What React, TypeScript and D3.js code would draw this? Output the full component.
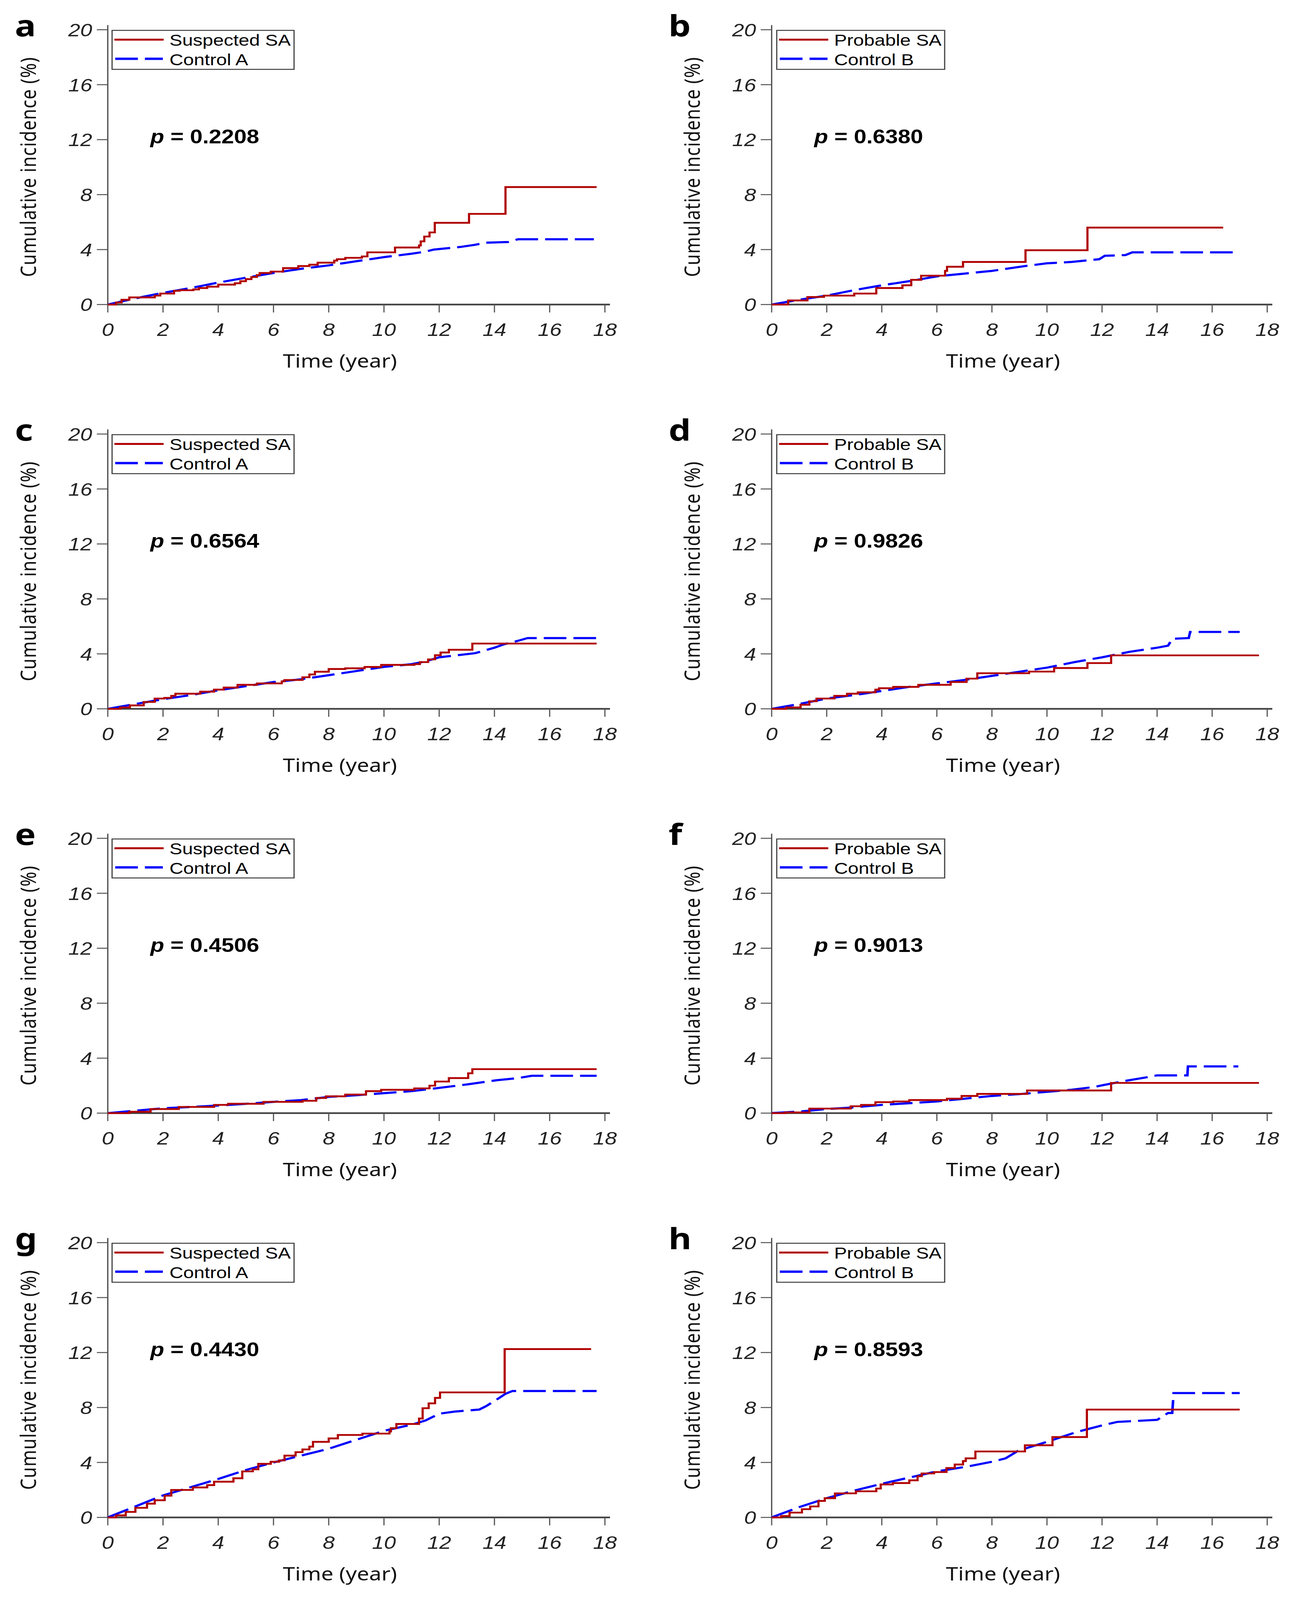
import React, { useEffect } from 'react';
import * as d3 from 'd3';

// Cumulative incidence panels: [time (year), incidence (%)]
const xTicks = [0, 2, 4, 6, 8, 10, 12, 14, 16, 18];
const yTicks = [0, 4, 8, 12, 16, 20];
const panelLetters = ['a', 'b', 'c', 'd', 'e', 'f', 'g', 'h'];
const pValues = ['0.2208', '0.6380', '0.6564', '0.9826', '0.4506', '0.9013', '0.4430', '0.8593'];
const caseNames = ['Suspected SA', 'Probable SA'];
const controlNames = ['Control A', 'Control B'];

type Pt = [number, number];

const redA: Pt[] = [[0, 0], [0.3, 0.15], [0.5, 0.35], [0.78, 0.52], [1.7, 0.65], [1.9, 0.8], [2.4, 1.0], [2.6, 1.04], [3.1, 1.1], [3.3, 1.2], [3.6, 1.3], [4.0, 1.45], [4.6, 1.55], [4.8, 1.7], [5.0, 1.85], [5.2, 2.0], [5.4, 2.15], [5.5, 2.3], [5.9, 2.4], [6.35, 2.65], [6.9, 2.8], [7.3, 2.9], [7.6, 3.05], [8.2, 3.2], [8.3, 3.3], [8.6, 3.4], [9.2, 3.5], [9.4, 3.8], [10.4, 4.15], [11.27, 4.3], [11.33, 4.6], [11.46, 4.95], [11.65, 5.25], [11.84, 5.95], [13.08, 6.6], [14.4, 8.55], [17.7, 8.55]];
const blueA: Pt[] = [[0, 0], [1, 0.45], [2, 0.85], [3, 1.2], [4, 1.6], [5, 1.95], [6, 2.3], [7, 2.6], [8, 2.85], [9, 3.15], [10, 3.45], [11, 3.7], [11.5, 3.85], [11.8, 4.0], [12.8, 4.2], [13.3, 4.35], [13.7, 4.5], [14.5, 4.55], [14.85, 4.75], [17.6, 4.75]];

const redB: Pt[] = [[0, 0], [0.6, 0.3], [1.3, 0.55], [1.9, 0.65], [3.0, 0.8], [3.8, 1.2], [4.75, 1.4], [5.07, 1.8], [5.43, 2.1], [6.3, 2.45], [6.37, 2.75], [6.95, 3.1], [9.22, 3.95], [11.47, 5.6], [16.4, 5.6]];
const blueB: Pt[] = [[0, 0], [1, 0.35], [2, 0.65], [3, 1.05], [4, 1.4], [5, 1.7], [6, 2.05], [7, 2.25], [8, 2.45], [9.2, 2.8], [10, 3.0], [10.9, 3.1], [11.4, 3.2], [11.9, 3.3], [12.1, 3.55], [12.85, 3.6], [13.1, 3.8], [16.9, 3.8]];

const redC: Pt[] = [[0, 0], [0.45, 0.1], [0.8, 0.25], [1.3, 0.5], [1.7, 0.75], [2.05, 0.8], [2.3, 0.95], [2.45, 1.1], [3.35, 1.25], [3.85, 1.4], [4.2, 1.55], [4.7, 1.75], [5.4, 1.85], [6.3, 2.0], [6.4, 2.1], [7.05, 2.3], [7.3, 2.5], [7.5, 2.7], [8.0, 2.9], [8.6, 2.95], [9.3, 3.05], [9.9, 3.2], [11.1, 3.25], [11.3, 3.4], [11.6, 3.6], [11.85, 3.9], [12.05, 4.1], [12.35, 4.3], [13.2, 4.75], [17.7, 4.75]];
const blueC: Pt[] = [[0, 0], [1, 0.35], [2, 0.7], [3, 1.0], [4, 1.35], [5, 1.65], [6, 1.95], [7, 2.15], [8, 2.45], [9, 2.75], [10, 3.05], [11, 3.25], [11.5, 3.45], [12, 3.75], [13.3, 4.05], [14, 4.45], [14.35, 4.7], [14.85, 4.95], [15.2, 5.15], [17.7, 5.15]];

const redD: Pt[] = [[0, 0], [0.53, 0.1], [1.05, 0.3], [1.37, 0.55], [1.63, 0.75], [2.28, 0.95], [2.74, 1.1], [3.13, 1.2], [3.77, 1.4], [3.9, 1.5], [4.42, 1.6], [5.33, 1.75], [6.5, 1.95], [7.08, 2.2], [7.47, 2.59], [9.35, 2.71], [10.26, 2.97], [11.47, 3.33], [12.33, 3.89], [17.7, 3.89]];
const blueD: Pt[] = [[0, 0], [1, 0.35], [2, 0.75], [3, 1.0], [4, 1.3], [5, 1.6], [6, 1.85], [7, 2.1], [8, 2.4], [9, 2.7], [10, 3.0], [11, 3.4], [12, 3.75], [13, 4.15], [14, 4.45], [14.4, 4.6], [14.55, 5.1], [15.15, 5.15], [15.2, 5.6], [17.0, 5.6]];

const redE: Pt[] = [[0, 0], [0.78, 0.1], [1.55, 0.3], [2.57, 0.45], [3.85, 0.6], [4.36, 0.68], [5.64, 0.82], [7.05, 0.9], [7.55, 1.1], [7.9, 1.22], [8.6, 1.35], [9.35, 1.6], [9.9, 1.7], [11.1, 1.8], [11.65, 2.0], [11.85, 2.3], [12.35, 2.55], [13.05, 2.9], [13.2, 3.2], [17.7, 3.2]];
const blueE: Pt[] = [[0, 0], [1, 0.18], [2, 0.35], [3, 0.45], [4, 0.55], [5, 0.68], [6, 0.82], [7, 0.95], [8, 1.18], [9, 1.3], [10, 1.45], [11, 1.6], [11.65, 1.75], [13.05, 2.1], [14.1, 2.4], [14.85, 2.55], [15.35, 2.72], [17.7, 2.72]];

const redF: Pt[] = [[0, 0], [0.5, 0.05], [1.37, 0.33], [2.87, 0.5], [3.25, 0.6], [3.77, 0.8], [4.42, 0.85], [5.0, 0.95], [6.37, 1.05], [6.9, 1.25], [7.47, 1.4], [9.28, 1.65], [12.33, 2.2], [17.7, 2.2]];
const blueF: Pt[] = [[0, 0], [1.05, 0.12], [2, 0.3], [2.87, 0.4], [4, 0.6], [5, 0.72], [6, 0.85], [7, 1.05], [8, 1.25], [9.1, 1.4], [10, 1.55], [10.9, 1.7], [11.7, 1.9], [12.07, 2.05], [12.85, 2.35], [13.6, 2.6], [14.0, 2.75], [15.1, 2.75], [15.12, 3.4], [16.95, 3.4]];

const redG: Pt[] = [[0, 0], [0.3, 0.15], [0.65, 0.4], [1.0, 0.7], [1.42, 1.0], [1.7, 1.25], [2.06, 1.58], [2.3, 2.0], [3.08, 2.18], [3.6, 2.35], [3.85, 2.6], [4.55, 2.85], [4.87, 3.35], [5.25, 3.5], [5.45, 3.9], [5.9, 4.05], [6.2, 4.15], [6.4, 4.5], [6.8, 4.75], [7.05, 4.95], [7.3, 5.15], [7.43, 5.5], [8.0, 5.75], [8.33, 6.0], [9.22, 6.1], [10.2, 6.25], [10.25, 6.5], [10.45, 6.8], [11.27, 7.2], [11.4, 7.95], [11.62, 8.3], [11.85, 8.7], [12.03, 9.1], [14.37, 12.25], [17.5, 12.25]];
const blueG: Pt[] = [[0, 0], [1, 0.8], [2, 1.6], [3, 2.2], [4, 2.8], [5, 3.45], [6, 4.0], [7, 4.5], [8, 5.0], [9, 5.65], [10, 6.3], [11, 6.75], [11.5, 7.05], [12, 7.55], [12.55, 7.7], [13.45, 7.85], [13.7, 8.1], [14.1, 8.6], [14.4, 9.0], [14.65, 9.2], [17.7, 9.2]];

const redH: Pt[] = [[0, 0], [0.35, 0.1], [0.65, 0.35], [1.1, 0.6], [1.4, 0.8], [1.7, 1.2], [1.93, 1.4], [2.3, 1.75], [3.06, 1.9], [3.8, 2.1], [3.96, 2.4], [4.4, 2.5], [5.0, 2.7], [5.3, 3.0], [5.45, 3.2], [5.9, 3.3], [6.35, 3.6], [6.65, 3.85], [6.95, 4.1], [7.05, 4.3], [7.4, 4.8], [9.2, 5.25], [10.2, 5.85], [11.45, 7.85], [17.0, 7.85]];
const blueH: Pt[] = [[0, 0], [1, 0.75], [2, 1.4], [3, 1.95], [4, 2.45], [5, 2.9], [6, 3.35], [7.1, 3.7], [8, 4.05], [8.5, 4.3], [8.95, 4.85], [10, 5.5], [11.05, 6.2], [12, 6.7], [12.55, 6.95], [14, 7.1], [14.4, 7.6], [14.55, 7.6], [14.6, 9.05], [17.0, 9.05]];

const redSeries = [redA, redB, redC, redD, redE, redF, redG, redH];
const blueSeries = [blueA, blueB, blueC, blueD, blueE, blueF, blueG, blueH];

// layout of the reference figure (3311 x 4844)
const W = 3311;
const H = 4844;
const colLeft = [276, 1976];
const colRight = [1549, 3245];
const rowTop0 = 90;
const rowStep = 1224;
const plotH = 832;

const RED = '#b00000';
const BLUE = '#0000ff';
const AXIS = '#404040';

function Panel({ i }: { i: number }) {
  const col = i % 2;
  const row = Math.floor(i / 2);
  const x0 = colLeft[col];
  const x1 = colRight[col];
  const top = rowTop0 + row * rowStep;
  const bottom = top + plotH;

  const x = d3.scaleLinear().domain([0, 18]).range([x0, x1]);
  const y = d3.scaleLinear().domain([0, 20]).range([bottom, top]);

  const stepLine = d3.line<Pt>().x(d => x(d[0])).y(d => y(d[1])).curve(d3.curveStepAfter);
  const smoothLine = d3.line<Pt>().x(d => x(d[0])).y(d => y(d[1])).curve(d3.curveLinear);

  const boxX = x0 + (col === 0 ? 11 : 13);
  const boxW = col === 0 ? 466 : 430;
  const tickFont = { fontFamily: 'Liberation Sans, Arial, sans-serif', fontStyle: 'italic' as const, fontSize: 55, fill: '#222' };

  return (
    <g>
      {/* panel letter */}
      <text x={col === 0 ? 38 : 1712} y={top + 20} fontFamily="Noto Sans, sans-serif" fontWeight="bold" fontSize={90} fill="#000">
        {panelLetters[i]}
      </text>

      {/* axes */}
      <line x1={x0} x2={x0} y1={top - 14} y2={bottom} stroke={AXIS} strokeWidth={3} />
      <line x1={x0} x2={x1 + 13} y1={bottom} y2={bottom} stroke={AXIS} strokeWidth={5} />
      {yTicks.map(t => (
        <g key={'y' + t}>
          <line x1={x0 - 28} x2={x0} y1={y(t)} y2={y(t)} stroke="#555" strokeWidth={3} />
          <text x={x0 - 40} y={y(t)} dy="0.36em" textAnchor="end" {...tickFont}>{t}</text>
        </g>
      ))}
      {xTicks.map(t => (
        <g key={'x' + t}>
          <line x1={x(t)} x2={x(t)} y1={bottom} y2={bottom + 24} stroke="#555" strokeWidth={3} />
          <text x={x(t)} y={bottom + 95} textAnchor="middle" {...tickFont}>{t}</text>
        </g>
      ))}

      {/* axis titles */}
      <text
        transform={`translate(${x0 - 184},${(top + bottom) / 2}) rotate(-90)`}
        textAnchor="middle"
        fontFamily="Noto Sans, sans-serif"
        fontSize={54}
        fill="#111"
        textLength={665}
        lengthAdjust="spacing"
      >
        Cumulative incidence (%)
      </text>
      <text x={(x0 + x1) / 2 - 42} y={bottom + 191} textAnchor="middle" fontFamily="Noto Sans, sans-serif" fontSize={56} fill="#111">
        Time (year)
      </text>

      {/* curves */}
      <path d={smoothLine(blueSeries[i]) || ''} fill="none" stroke={BLUE} strokeWidth={6.5} strokeDasharray="58 18" />
      <path d={stepLine(redSeries[i]) || ''} fill="none" stroke={RED} strokeWidth={5.5} strokeLinejoin="miter" />

      {/* p value */}
      <text x={x0 + 109} y={top + 344} fontFamily="Liberation Sans, Arial, sans-serif" fontWeight="bold" fontSize={58} fill="#000">
        <tspan fontStyle="italic">p</tspan> = {pValues[i]}
      </text>

      {/* legend */}
      <rect x={boxX} y={top + 2} width={boxW} height={118} fill="#fff" stroke={AXIS} strokeWidth={3} />
      <line x1={boxX + 6} x2={boxX + 132} y1={top + 30} y2={top + 30} stroke={RED} strokeWidth={6} />
      <line x1={boxX + 8} x2={boxX + 130} y1={top + 88} y2={top + 88} stroke={BLUE} strokeWidth={7} strokeDasharray="58 18" />
      <text x={boxX + 147} y={top + 48} fontFamily="Liberation Sans, Arial, sans-serif" fontSize={49} fill="#000">
        {caseNames[col]}
      </text>
      <text x={boxX + 147} y={top + 107} fontFamily="Liberation Sans, Arial, sans-serif" fontSize={49} fill="#000">
        {controlNames[col]}
      </text>
    </g>
  );
}

export default function App() {
  useEffect(() => {
    document.body.style.margin = '0';
    document.body.style.overflow = 'hidden';
  }, []);

  // the page is shown in whatever height the window really has; the figure is fitted into it
  return (
    <svg
      width="100vw"
      height="100vh"
      viewBox={`0 0 ${W} ${H}`}
      preserveAspectRatio="none"
      style={{ display: 'block', background: '#fff', maxHeight: H }}
    >
      <rect width={W} height={H} fill="#fff" />
      {panelLetters.map((_, i) => (
        <Panel key={i} i={i} />
      ))}
    </svg>
  );
}
